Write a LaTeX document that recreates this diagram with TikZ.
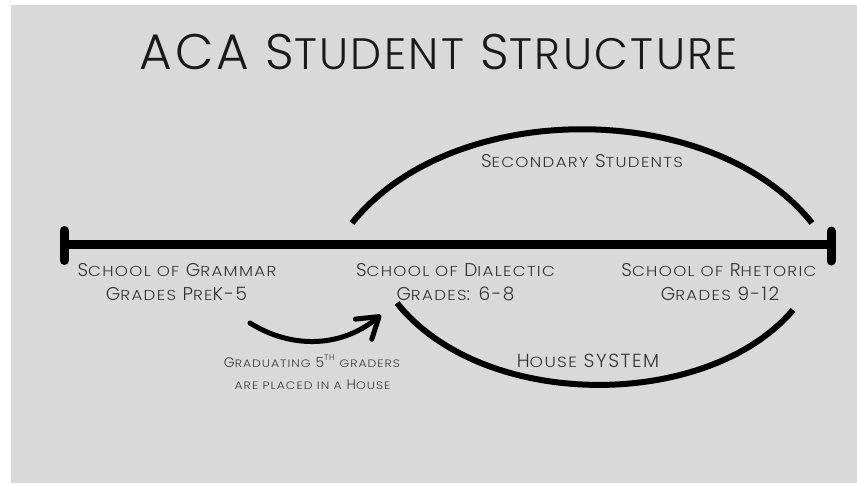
\documentclass[tikz,border=0pt]{standalone}
\usepackage{fontspec}
\usepackage{graphicx}
\setmainfont{Poppins Light}[LetterSpace=8]
\newfontfamily\titlefont{Poppins Light}[LetterSpace=5.5]
\usetikzlibrary{arrows.meta}
\definecolor{bggray}{HTML}{D9D9D9}
\definecolor{labelgray}{HTML}{333333}
\definecolor{capgray}{HTML}{3A3A3A}
\newcommand\SCa[1]{\scalebox{0.9}[0.78]{#1}}
\newcommand\SCt[1]{\scalebox{0.88}{#1}}
\tikzset{
  label/.style={anchor=base, inner sep=0pt, text=labelgray, font=\fontsize{18.5}{20}\selectfont},
  caption/.style={anchor=base, inner sep=0pt, text=capgray, font=\fontsize{13.8}{15}\selectfont},
  titletext/.style={anchor=base, inner sep=0pt, text=black!90, font=\titlefont\fontsize{50}{52}\selectfont},
  bar/.style={line width=9pt, line cap=round},
  arc/.style={line width=6pt},
}
\begin{document}
\begin{tikzpicture}[x=1pt,y=-1pt]
\useasboundingbox (0,0) rectangle (857,483);
\fill[white] (0,0) rectangle (857,483);
\fill[bggray] (11,5) rectangle (857,483);

\node[titletext] (title) at (439,69) {ACA S\SCt{TUDENT} S\SCt{TRUCTURE}};

% timeline
\coordinate (lineL) at (64,244.5);
\coordinate (lineR) at (831,244.5);
\coordinate (barLt) at (64,230.5);
\coordinate (barLb) at (64,260.5);
\coordinate (barRt) at (831,231);
\coordinate (barRb) at (831,261);
\draw[line width=9pt] (lineL) -- (lineR);
\draw[bar] (barLt) -- (barLb);
\draw[bar] (barRt) -- (barRb);

% upper arc
\coordinate (upL) at (352,223);
\coordinate (upR) at (812,223);
\draw[arc] (upL) .. controls (452,98) and (712,98) .. (upR);
\node[label] (secondary) at (582,167) {S\SCa{ECONDARY} S\SCa{TUDENTS}};

% labels
\node[label] (gram1) at (177,276) {S\SCa{CHOOL OF} G\SCa{RAMMAR}};
\node[label] (gram2) at (176.5,300) {G\SCa{RADES} P\SCa{RE}K-5};
\node[label] (dial1) at (455.5,276) {S\SCa{CHOOL OF} D\SCa{IALECTIC}};
\node[label] (dial2) at (455.5,300) {G\SCa{RADES}: 6-8};
\node[label] (rhet1) at (719,276) {S\SCa{CHOOL OF} R\SCa{HETORIC}};
\node[label] (rhet2) at (720,300) {G\SCa{RADES} 9-12};

% lower arc
\coordinate (loL) at (397,303);
\coordinate (loR) at (793,310);
\draw[arc] (loL) .. controls (483,411) and (707,411) .. (loR);
\node[label, font=\fontsize{19}{21}\selectfont] (house) at (588,367) {H\SCa{OUSE} SYSTEM};

% small arrow
\coordinate (arS) at (250,323);
\coordinate (arE) at (381,315);
\draw[line width=5pt, line cap=round, -{Straight Barb[length=20pt,width=26pt,round]}]
  (arS) .. controls (288,347) and (338,350) .. (arE);
\node[caption] (cap1) at (312,367) {G\SCa{RADUATING} 5\raisebox{0.45em}{\scalebox{0.6}{TH}} \SCa{GRADERS}};
\node[caption] (cap2) at (312.5,389) {\SCa{ARE PLACED IN A} H\SCa{OUSE}};
\end{tikzpicture}
\end{document}
